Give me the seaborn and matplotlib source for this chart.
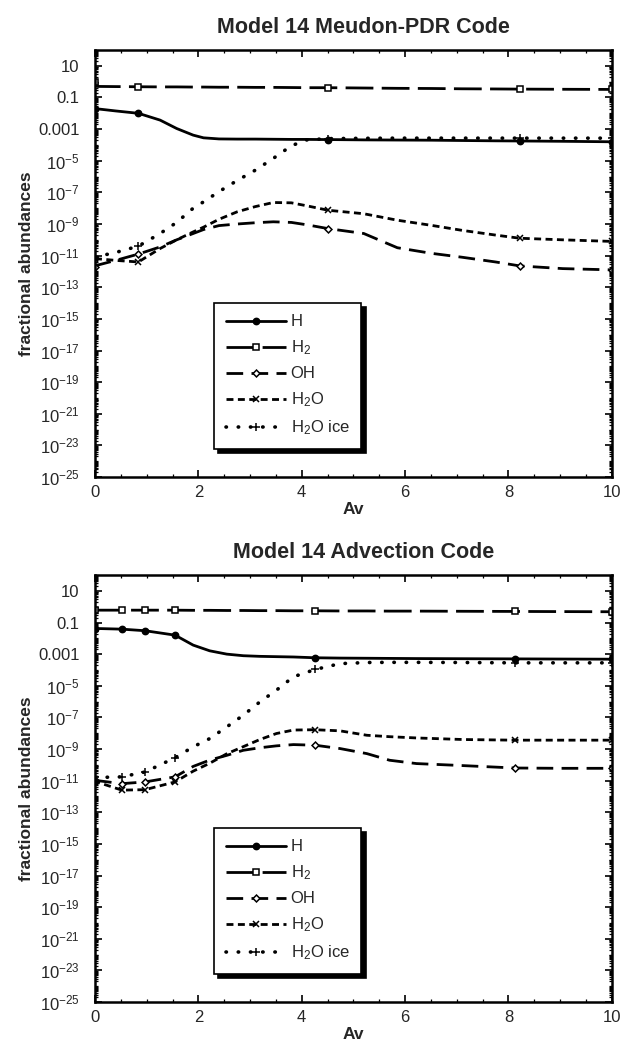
import numpy as np
import pandas as pd
import seaborn as sns
import matplotlib.pyplot as plt
from matplotlib.ticker import FixedLocator, FixedFormatter, MultipleLocator, LogLocator, NullFormatter

# --- datos (log10 de la abundancia fraccional) ---
SPECIES = ['H', 'H$_2$', 'OH', 'H$_2$O', 'H$_2$O ice']

AV_TOP = [0, 0.05, 0.4, 0.84, 1.26, 1.58, 1.9, 2.1, 2.4, 2.75, 3.1, 3.45,
          3.8, 4.1, 4.51, 5.2, 5.85, 6.5, 7.1, 7.75, 8.22, 9.05, 10]
LOG_H_TOP = [-1.7, -1.72, -1.85, -2.0, -2.43, -2.96, -3.38, -3.55, -3.62, -3.63, -3.63, -3.64,
             -3.65, -3.65, -3.66, -3.68, -3.69, -3.7, -3.72, -3.74, -3.75, -3.77, -3.8]
LOG_H2_TOP = [-0.05, -0.3, -0.31, -0.32, -0.33, -0.33, -0.34, -0.34, -0.35, -0.35, -0.36, -0.36,
              -0.37, -0.38, -0.38, -0.4, -0.42, -0.43, -0.45, -0.46, -0.47, -0.48, -0.49]
LOG_OH_TOP = [-11.7, -11.6, -11.3, -10.9, -10.45, -10.0, -9.6, -9.35, -9.1, -9.0, -8.92, -8.86,
              -8.9, -9.05, -9.29, -9.6, -10.5, -10.85, -11.1, -11.4, -11.65, -11.82, -11.9]
LOG_H2O_TOP = [-11.2, -11.2, -11.3, -11.4, -10.55, -10.0, -9.5, -9.2, -8.7, -8.23, -7.9, -7.64,
               -7.66, -7.85, -8.13, -8.35, -8.76, -9.08, -9.4, -9.7, -9.9, -10.0, -10.1]
LOG_ICE_TOP = [-11.1, -11.05, -10.8, -10.4, -9.6, -8.9, -8.0, -7.6, -6.95, -6.25, -5.6, -4.85,
               -4.05, -3.68, -3.6, -3.58, -3.57, -3.57, -3.57, -3.57, -3.57, -3.57, -3.57]
MARK_TOP = [0, 0.84, 4.51, 8.22, 10]

AV_BOT = [0, 0.05, 0.52, 0.97, 1.55, 1.9, 2.22, 2.55, 2.87, 3.19, 3.51, 3.84,
          4.26, 4.74, 5.26, 5.7, 6.22, 7.13, 8.12, 9.0, 10]
LOG_H_BOT = [-1.38, -1.38, -1.42, -1.52, -1.8, -2.43, -2.79, -3.0, -3.1, -3.14, -3.16, -3.18,
             -3.23, -3.25, -3.26, -3.27, -3.28, -3.29, -3.3, -3.31, -3.32]
LOG_H2_BOT = [-0.2, -0.22, -0.22, -0.22, -0.22, -0.23, -0.23, -0.24, -0.24, -0.25, -0.25, -0.26,
              -0.26, -0.27, -0.27, -0.28, -0.28, -0.29, -0.3, -0.31, -0.32]
LOG_OH_BOT = [-10.97, -11.0, -11.19, -11.08, -10.76, -10.1, -9.7, -9.4, -9.08, -8.92, -8.8, -8.72,
              -8.76, -8.97, -9.29, -9.71, -9.92, -10.05, -10.2, -10.22, -10.22]
LOG_H2O_BOT = [-10.87, -11.1, -11.6, -11.57, -11.08, -10.4, -9.9, -9.3, -8.85, -8.4, -8.02, -7.8,
               -7.78, -7.85, -8.13, -8.22, -8.3, -8.4, -8.44, -8.44, -8.44]
LOG_ICE_BOT = [-10.76, -10.8, -10.76, -10.45, -9.55, -8.86, -8.34, -7.6, -6.86, -6.02, -5.28, -4.43,
               -3.97, -3.6, -3.53, -3.52, -3.52, -3.53, -3.55, -3.55, -3.55]
MARK_BOT = [0, 0.52, 0.97, 1.55, 4.26, 8.12, 10]

YTICK_EXP = [1, -1, -3, -5, -7, -9, -11, -13, -15, -17, -19, -21, -23, -25]
YTICK_LABELS = ['10', '0.1', '0.001'] + ['$10^{%d}$' % e for e in YTICK_EXP[3:]]
XTICKS = [0, 2, 4, 6, 8, 10]

# estilo de cada especie
ESTILOS = {
    'H': dict(linestyle='-', marker='o', ms=4.5, mfc='black', cap='butt'),
    'H$_2$': dict(linestyle=(0, (20, 6)), marker='s', ms=5, mfc='white', cap='butt'),
    'OH': dict(linestyle=(0, (12, 6)), marker='D', ms=3.5, mfc='white', cap='butt'),
    'H$_2$O': dict(linestyle=(0, (5, 3.2)), marker='x', ms=5, mfc='black', cap='butt'),
    'H$_2$O ice': dict(linestyle=(0, (0.3, 8.5)), marker='+', ms=6, mfc='black', cap='round'),
}

sns.set_theme(style='ticks')
plt.rcParams['font.family'] = ['Liberation Sans', 'DejaVu Sans']
plt.rcParams['mathtext.fontset'] = 'custom'
plt.rcParams['mathtext.rm'] = 'Liberation Sans'
plt.rcParams['mathtext.it'] = 'Liberation Sans'
plt.rcParams['lines.scale_dashes'] = False

fig = plt.figure(figsize=(6.22, 10.45), dpi=100)
ax_top = fig.add_axes([0.1527, 0.5435, 0.831, 0.4086])
ax_bot = fig.add_axes([0.1527, 0.0411, 0.831, 0.4086])


def dibujar_panel(ax, av, logs, marcas, titulo):
    df = pd.DataFrame({'Av': av})
    for nombre, lg in zip(SPECIES, logs):
        df[nombre] = np.power(10.0, lg)
    idx = [av.index(m) for m in marcas]

    for nombre in SPECIES:
        st = ESTILOS[nombre]
        lw = 2.6 if st['cap'] == 'round' else 2.0
        sns.lineplot(data=df, x='Av', y=nombre, ax=ax, color='black', linewidth=lw,
                     linestyle=st['linestyle'], dash_capstyle=st['cap'],
                     marker=st['marker'], markersize=st['ms'],
                     markerfacecolor=st['mfc'], markeredgecolor='black', markeredgewidth=1.1,
                     markevery=idx, errorbar=None, legend=False, label=nombre)

    ax.set_yscale('log')
    ax.set_ylim(1e-25, 1e2)
    ax.set_xlim(0, 10)

    ax.yaxis.set_major_locator(FixedLocator([10.0 ** e for e in YTICK_EXP]))
    ax.yaxis.set_major_formatter(FixedFormatter(YTICK_LABELS))
    ax.yaxis.set_minor_locator(LogLocator(base=10, subs=np.arange(1, 10), numticks=200))
    ax.yaxis.set_minor_formatter(NullFormatter())
    ax.set_xticks(XTICKS)
    ax.set_xticklabels([str(t) for t in XTICKS])
    ax.xaxis.set_minor_locator(MultipleLocator(0.5))

    ax.tick_params(which='both', direction='in', top=True, right=True, color='black')
    ax.tick_params(which='major', length=5, width=1.2, labelsize=12)
    ax.tick_params(axis='x', which='major', pad=6)
    ax.tick_params(axis='y', which='major', pad=11)
    ax.tick_params(which='minor', length=2.5, width=0.9)
    for sp in ax.spines.values():
        sp.set_linewidth(1.8)
        sp.set_color('black')

    ax.set_title(titulo, fontsize=15.5, fontweight='bold', pad=12, x=0.52)
    ax.set_xlabel('Av', fontsize=12.5, fontweight='bold', labelpad=1)
    ax.set_ylabel('fractional abundances', fontsize=12.5, fontweight='bold', labelpad=3)

    leg = ax.legend(loc='lower left', bbox_to_anchor=(0.23, 0.066), fontsize=12,
                    handlelength=3.6, handletextpad=0.3, labelspacing=0.55,
                    borderpad=0.7, borderaxespad=0, fancybox=False, framealpha=1,
                    edgecolor='black',
                    shadow={'color': 'black', 'alpha': 1, 'ox': 3, 'oy': -3})
    leg.get_frame().set_linewidth(1.2)


dibujar_panel(ax_top, AV_TOP,
              [LOG_H_TOP, LOG_H2_TOP, LOG_OH_TOP, LOG_H2O_TOP, LOG_ICE_TOP],
              MARK_TOP, 'Model 14 Meudon-PDR Code')
dibujar_panel(ax_bot, AV_BOT,
              [LOG_H_BOT, LOG_H2_BOT, LOG_OH_BOT, LOG_H2O_BOT, LOG_ICE_BOT],
              MARK_BOT, 'Model 14 Advection Code')

fig.savefig('out.png', dpi=100, facecolor='white')
